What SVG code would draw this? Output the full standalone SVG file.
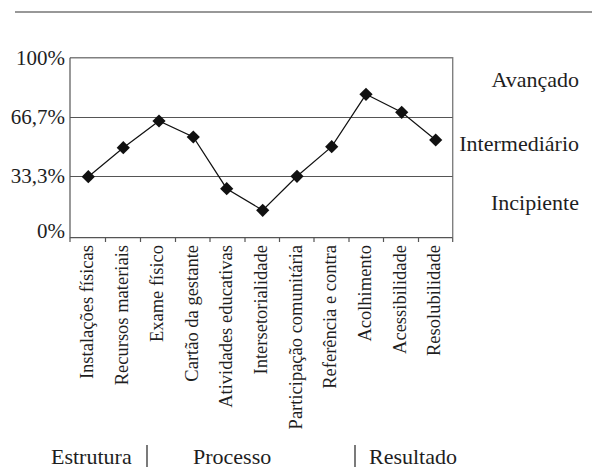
<svg xmlns="http://www.w3.org/2000/svg" xmlns:xlink="http://www.w3.org/1999/xlink" width="593" height="469" viewBox="0 0 593 469">
<style>
text{font-family:"Liberation Serif","Times New Roman",serif;fill:#1e1e1e}
.yl{font-size:21px;text-anchor:end}
.rl{font-size:22px;text-anchor:end}
.bl{font-size:22px}
.xl{font-size:18.5px;text-anchor:end}
.grid{stroke:#555;stroke-width:1.2;fill:none}
.frame{stroke:#808080;stroke-width:1.4;fill:none}
.tick{stroke:#555;stroke-width:1.2}
.sep{stroke:#333;stroke-width:1.3}
.series{stroke:#111;stroke-width:1.2;fill:none}
.mk{fill:#111}
</style>
<defs>
<path id="dia" d="M0,-6.6 L6.6,0 L0,6.6 L-6.6,0Z"/>
</defs>
<rect width="593" height="469" fill="#fff"/>
<line x1="15" y1="12" x2="592" y2="12" stroke="#333" stroke-width="1.2"/>
<g id="plot-area">
<path class="frame" d="M70,57.7 H452.7 V237.7"/>
<line class="grid" x1="70" y1="117.5" x2="452.7" y2="117.5"/>
<line class="grid" x1="70" y1="176.5" x2="452.7" y2="176.5"/>
<path class="grid" d="M70,57.7 V237.7 H452.7"/>
<g id="ticks">
<line class="tick" x1="70" y1="237.7" x2="70" y2="242"/>
<line class="tick" x1="105.5" y1="237.7" x2="105.5" y2="242"/>
<line class="tick" x1="140.5" y1="237.7" x2="140.5" y2="242"/>
<line class="tick" x1="175.5" y1="237.7" x2="175.5" y2="242"/>
<line class="tick" x1="210" y1="237.7" x2="210" y2="242"/>
<line class="tick" x1="245" y1="237.7" x2="245" y2="242"/>
<line class="tick" x1="279.5" y1="237.7" x2="279.5" y2="242"/>
<line class="tick" x1="314" y1="237.7" x2="314" y2="242"/>
<line class="tick" x1="349" y1="237.7" x2="349" y2="242"/>
<line class="tick" x1="383.5" y1="237.7" x2="383.5" y2="242"/>
<line class="tick" x1="418.5" y1="237.7" x2="418.5" y2="242"/>
<line class="tick" x1="452.7" y1="237.7" x2="452.7" y2="242"/>
</g>
</g>
<g id="y-axis-labels">
<text class="yl" x="65" y="64.5">100%</text>
<text class="yl" x="65" y="123.5">66,7%</text>
<text class="yl" x="65" y="182.5">33,3%</text>
<text class="yl" x="65" y="238">0%</text>
</g>
<g id="level-labels">
<text class="rl" x="579" y="86.5">Avançado</text>
<text class="rl" x="579" y="150.7">Intermediário</text>
<text class="rl" x="579" y="210">Incipiente</text>
</g>
<g id="connectors">
<polyline class="series" points="88.3,176.7 123.3,147.7 159,121 193.3,137 226.7,188.7 262.7,210.3 297,176.3 331.7,146.7 366,94.3 401.7,112.3 435.7,140"/>
</g>
<g id="points">
<g id="p-instalacoes"><use xlink:href="#dia" class="mk" x="88.3" y="176.7"/></g>
<g id="p-recursos"><use xlink:href="#dia" class="mk" x="123.3" y="147.7"/></g>
<g id="p-exame"><use xlink:href="#dia" class="mk" x="159" y="121"/></g>
<g id="p-cartao"><use xlink:href="#dia" class="mk" x="193.3" y="137"/></g>
<g id="p-atividades"><use xlink:href="#dia" class="mk" x="226.7" y="188.7"/></g>
<g id="p-intersetorialidade"><use xlink:href="#dia" class="mk" x="262.7" y="210.3"/></g>
<g id="p-participacao"><use xlink:href="#dia" class="mk" x="297" y="176.3"/></g>
<g id="p-referencia"><use xlink:href="#dia" class="mk" x="331.7" y="146.7"/></g>
<g id="p-acolhimento"><use xlink:href="#dia" class="mk" x="366" y="94.3"/></g>
<g id="p-acessibilidade"><use xlink:href="#dia" class="mk" x="401.7" y="112.3"/></g>
<g id="p-resolubilidade"><use xlink:href="#dia" class="mk" x="435.7" y="140"/></g>
</g>
<g id="x-axis-labels">
<text class="xl" transform="translate(93,245) rotate(-90)">Instalações físicas</text>
<text class="xl" transform="translate(128,245) rotate(-90)">Recursos materiais</text>
<text class="xl" transform="translate(163,245) rotate(-90)">Exame físico</text>
<text class="xl" transform="translate(197.5,245) rotate(-90)">Cartão da gestante</text>
<text class="xl" transform="translate(232,245) rotate(-90)">Atividades educativas</text>
<text class="xl" transform="translate(267,245) rotate(-90)">Intersetorialidade</text>
<text class="xl" transform="translate(301.5,245) rotate(-90)">Participação comunitária</text>
<text class="xl" transform="translate(336,245) rotate(-90)">Referência e contra</text>
<text class="xl" transform="translate(370.5,245) rotate(-90)">Acolhimento</text>
<text class="xl" transform="translate(405.5,245) rotate(-90)">Acessibilidade</text>
<text class="xl" transform="translate(440,245) rotate(-90)">Resolubilidade</text>
</g>
<g id="groups">
<text class="bl" x="51" y="463.5">Estrutura</text>
<line class="sep" x1="147" y1="445" x2="147" y2="467"/>
<text class="bl" x="193" y="463.5">Processo</text>
<line class="sep" x1="355" y1="445" x2="355" y2="467"/>
<text class="bl" x="369" y="463.5">Resultado</text>
</g>
</svg>
